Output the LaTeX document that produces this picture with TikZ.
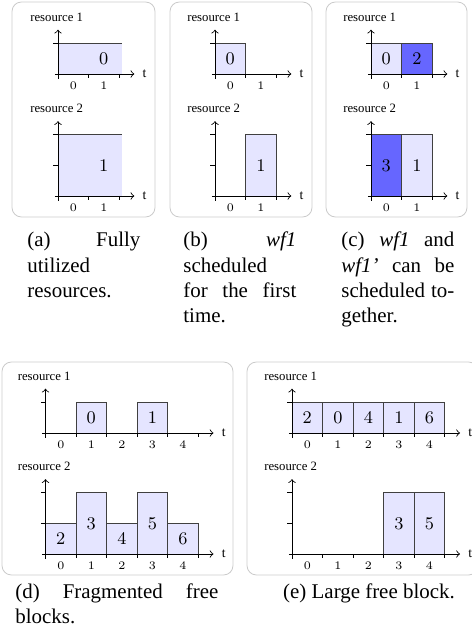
\documentclass[tikz,border=0pt]{standalone}
\usepackage{fontspec}
\newfontfamily\timesfont[Ligatures=TeX]{Liberation Serif}

\begin{document}
\begin{tikzpicture}[x=0.478pt, y=-0.478pt,
    panel/.style={draw=black!20, rounded corners=4.5pt},
    chart/.style={x=14.6pt, y=14.6pt},
    job/.style={draw=black!75, fill=blue!10},
    busy/.style={draw=black!75, fill=blue!60},
    joblabel/.style={font=\fontsize{8.5}{9}\selectfont, inner sep=0pt},
    ticklabel/.style={font=\fontsize{5.5}{6}\selectfont, inner sep=0pt},
    reslabel/.style={font=\timesfont\fontsize{6.1}{7}\selectfont, anchor=west, inner sep=0pt},
    tlabel/.style={font=\timesfont\fontsize{6.5}{7}\selectfont, right, inner sep=3.8pt},
    caption/.style={font=\timesfont\fontsize{10}{12}\selectfont, anchor=base west, inner sep=0pt},
    pics/resaxis/.style n args={3}{code={
      \draw[->] (-0.1,0) -- (#1+0.5,0) node[tlabel] (-t) {t};
      \draw[->] (0,-0.15) -- (0,#2+0.45);
      \foreach \k in {1,...,#1} \draw (\k,0) -- (\k,-0.13);
      \foreach \k in {1,...,#2} \draw (-0.15,\k) -- (0,\k);
      \foreach \k [count=\c from 0] in {1,...,#1}
        \node[ticklabel] (-x\c) at (\k-0.5,-0.38) {\c};
      \node[reslabel] (-name) at (-0.92,#2+0.87) {#3};
    }}
  ]
  \useasboundingbox (0,0) rectangle (471,638);

  % frames
  \draw[panel] (12,2) rectangle (155,217);
  \draw[panel] (170,2) rectangle (312,217);
  \draw[panel] (326,2) rectangle (467,217);
  \draw[panel] (2,362) rectangle (233,575);
  \draw[panel] (247,362) rectangle (478,575);

  % (a) fully utilized
  \begin{scope}[shift={(58,74)}, chart]
    \fill[blue!10] (0,0) rectangle (2.1,1);
    \draw[black!75] (0,1) -- (2.1,1);
    \node[joblabel] (a0) at (1.5,0.5) {0};
    \pic (ar1) {resaxis={2}{1}{resource 1}};
  \end{scope}
  \begin{scope}[shift={(58,196)}, chart]
    \fill[blue!10] (0,0) rectangle (2.1,2);
    \draw[black!75] (0,2) -- (2.1,2);
    \node[joblabel] (a1) at (1.5,1) {1};
    \pic (ar2) {resaxis={2}{2}{resource 2}};
  \end{scope}

  % (b) wf1 first time
  \begin{scope}[shift={(215,74)}, chart]
    \draw[job] (0,0) rectangle (1,1);
    \node[joblabel] (b0) at (0.5,0.5) {0};
    \pic (br1) {resaxis={2}{1}{resource 1}};
  \end{scope}
  \begin{scope}[shift={(215,196)}, chart]
    \draw[job] (1,0) rectangle (2,2);
    \node[joblabel] (b1) at (1.5,1) {1};
    \pic (br2) {resaxis={2}{2}{resource 2}};
  \end{scope}

  % (c) wf1 and wf1' together
  \begin{scope}[shift={(371,74)}, chart]
    \draw[job] (0,0) rectangle (1,1);
    \draw[busy] (1,0) rectangle (2,1);
    \node[joblabel] (c0) at (0.5,0.5) {0};
    \node[joblabel] (c2) at (1.5,0.5) {2};
    \pic (cr1) {resaxis={2}{1}{resource 1}};
  \end{scope}
  \begin{scope}[shift={(371,196)}, chart]
    \draw[busy] (0,0) rectangle (1,2);
    \draw[job] (1,0) rectangle (2,2);
    \node[joblabel] (c3) at (0.5,1) {3};
    \node[joblabel] (c1) at (1.5,1) {1};
    \pic (cr2) {resaxis={2}{2}{resource 2}};
  \end{scope}

  % (d) fragmented
  \begin{scope}[shift={(45.5,433)}, chart]
    \foreach \x/\n in {1/0,3/1} {
      \draw[job] (\x,0) rectangle (\x+1,1);
      \node[joblabel] (d\n) at (\x+0.5,0.5) {\n};
    }
    \pic (dr1) {resaxis={5}{1}{resource 1}};
  \end{scope}
  \begin{scope}[shift={(45.5,554)}, chart]
    \foreach \x/\h/\n in {0/1/2,1/2/3,2/1/4,3/2/5,4/1/6} {
      \draw[job] (\x,0) rectangle (\x+1,\h);
      \node[joblabel] (d\n) at (\x+0.5,\h/2) {\n};
    }
    \pic (dr2) {resaxis={5}{2}{resource 2}};
  \end{scope}

  % (e) large free block
  \begin{scope}[shift={(292,433)}, chart]
    \foreach \x/\n in {0/2,1/0,2/4,3/1,4/6} {
      \draw[job] (\x,0) rectangle (\x+1,1);
      \node[joblabel] (e\n) at (\x+0.5,0.5) {\n};
    }
    \pic (er1) {resaxis={5}{1}{resource 1}};
  \end{scope}
  \begin{scope}[shift={(292,554)}, chart]
    \foreach \x/\n in {3/3,4/5} {
      \draw[job] (\x,0) rectangle (\x+1,2);
      \node[joblabel] (e\n) at (\x+0.5,1) {\n};
    }
    \pic (er2) {resaxis={5}{2}{resource 2}};
  \end{scope}

  % captions
  \node[caption] (capa) at (27,247) {\parbox[t]{54pt}{%
    \makebox[\linewidth][s]{(a) Fully}\\ utilized\\ resources.}};
  \node[caption] (capb) at (183,247) {\parbox[t]{54pt}{%
    \makebox[\linewidth][s]{(b) \textit{wf1}}\\ scheduled\\
    \makebox[\linewidth][s]{for the first}\\ time.}};
  \node[caption] (capc) at (341,247) {\parbox[t]{54pt}{%
    \makebox[\linewidth][s]{(c) \textit{wf1} and}\\
    \makebox[\linewidth][s]{\textit{wf1’} can be}\\
    \makebox[\linewidth][s]{scheduled to-}\\ gether.}};
  \node[caption] (capd) at (15,598) {\parbox[t]{97pt}{%
    \makebox[\linewidth][s]{(d) Fragmented free}\\ blocks.}};
  \node[caption, anchor=base] (cape) at (369,598) {(e) Large free block.};
\end{tikzpicture}
\end{document}
